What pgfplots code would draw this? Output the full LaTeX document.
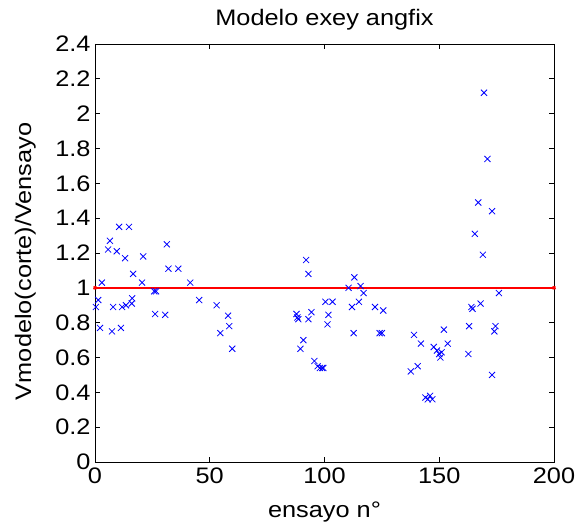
\documentclass[border=0pt]{standalone}
\usepackage{pgfplots}
\pgfplotsset{compat=1.18}
\usepackage{fontspec}
\setmainfont{Liberation Sans}[FakeStretch=1.13]
\definecolor{refred}{RGB}{255,70,70}
\definecolor{refblue}{RGB}{0,0,255}
\begin{document}
\begin{tikzpicture}
\useasboundingbox (-95bp,-61bp) rectangle (493bp,462bp);
\begin{axis}[
  at={(0,0)}, anchor=south west,
  scale only axis, width=459bp, height=418bp,
  xmin=0, xmax=200, ymin=0, ymax=2.4,
  xtick={0,50,...,200},
  ytick={0,0.2,...,2.4},
  tick align=inside,
  major tick length=5bp,
  axis line style={line width=0.9pt},
  every tick/.append style={line width=0.9pt, black},
  /pgf/number format/assume math mode=true,
  /pgf/number format/fixed,
  /pgf/number format/precision=1,
  tick label style={font=\fontsize{22.5}{24}\selectfont},
  xticklabel style={yshift=-2bp},
  yticklabel style={xshift=-1bp},
  title={Modelo exey angfix},
  title style={font=\fontsize{22.5}{24}\selectfont, at={(axis description cs:0.5,1.043)}, anchor=center},
  xlabel={ensayo n°},
  xlabel style={font=\fontsize{22.5}{24}\selectfont, at={(axis description cs:0.5,-0.12)}, anchor=center},
  ylabel={Vmodelo(corte)/Vensayo},
  ylabel style={font=\fontsize{22.5}{24}\selectfont, at={(axis description cs:-0.152,0.48)}, anchor=center},
]
\addplot[only marks, mark=x, mark size=4.3pt, color=refblue, mark options={line width=0.8pt, draw=refblue}] coordinates {
(0.4,0.89) (1.4,0.93) (2.2,0.77) (3,1.03) (5.7,1.22) (6.5,1.27) (7.4,0.75) (7.9,0.89)
(9.5,1.21) (10.5,1.35) (11.3,0.77) (11.8,0.89) (13.1,1.17) (13.5,0.90) (14.8,1.35)
(16,0.91) (16.2,0.94) (16.6,1.08) (20.5,1.03) (21,1.18) (25.8,0.98) (26.6,0.98)
(26.2,0.85) (30.6,0.845) (31.3,1.25) (32,1.11) (36.3,1.11) (41.5,1.03) (45.4,0.93)
(53,0.90) (54.6,0.74) (58,0.84) (58.5,0.78) (59.8,0.65)
(87.8,0.85) (88.2,0.83) (88.6,0.82) (89.5,0.65) (90.8,0.70) (92,1.16) (93,1.08)
(93,0.82) (94.3,0.86) (95.6,0.58) (97,0.55) (98,0.54) (99,0.54) (99.5,0.54)
(100.4,0.92) (101.3,0.79) (101.7,0.845) (103.5,0.92) (110.5,1.0) (112,0.89)
(112.7,0.74) (113,1.06) (115,0.92) (115.7,1.01) (117,0.97) (122,0.89) (124,0.74)
(125,0.74) (125.6,0.87)
(137.6,0.52) (139,0.73) (140.6,0.55) (142,0.68) (144,0.37) (145,0.36) (146,0.38)
(147,0.36) (147.6,0.66) (149,0.64) (150,0.62) (150.5,0.60) (151,0.63) (152,0.76)
(153.7,0.68) (162.7,0.62) (163,0.78) (164,0.89) (164.5,0.88) (165.5,1.31) (167,1.49)
(168,0.91) (169,1.19) (169.5,2.12) (171,1.74) (173,0.50) (173,1.44) (174,0.75)
(174.5,0.78) (176,0.97)
};
\addplot[draw=red, line width=1.6pt, mark=x, mark options={draw=red}] coordinates {(0,1) (200,1)};
\end{axis}
\end{tikzpicture}
\end{document}
